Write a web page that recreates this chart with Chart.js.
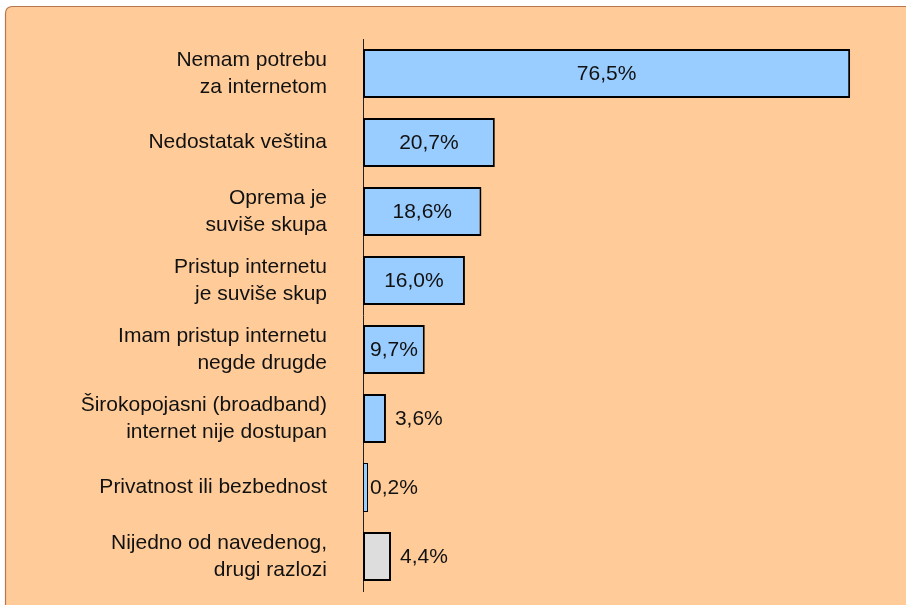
<!DOCTYPE html>
<html>
<head>
<meta charset="utf-8">
<script src="https://cdn.jsdelivr.net/npm/chart.js@4/dist/chart.umd.min.js"></script>
<style>
html,body{margin:0;padding:0;background:#fff;}
#wrap{width:906px;height:605px;position:relative;}
</style>
</head>
<body>
<div id="wrap"><canvas id="c" width="906" height="605"></canvas></div>
<script>
const categories = [
  ["Nemam potrebu", "za internetom"],
  ["Nedostatak veština"],
  ["Oprema je", "suviše skupa"],
  ["Pristup internetu", "je suviše skup"],
  ["Imam pristup internetu", "negde drugde"],
  ["Širokopojasni (broadband)", "internet nije dostupan"],
  ["Privatnost ili bezbednost"],
  ["Nijedno od navedenog,", "drugi razlozi"]
];
const values = [76.5, 20.7, 18.6, 16.0, 9.7, 3.6, 0.2, 4.4];
const valueLabels = ["76,5%", "20,7%", "18,6%", "16,0%", "9,7%", "3,6%", "0,2%", "4,4%"];
const barColors = ["#99CCFF","#99CCFF","#99CCFF","#99CCFF","#99CCFF","#99CCFF","#99CCFF","#DDDDDD"];

const FONT = "'Liberation Sans', Arial, sans-serif";

const bgPlugin = {
  id: 'bg',
  beforeDraw(chart) {
    const ctx = chart.ctx;
    ctx.save();
    ctx.fillStyle = '#ffffff';
    ctx.fillRect(0, 0, chart.width, chart.height);
    const x = 5.5, y = 6.5, r = 7, w = 1000, h = 1000;
    ctx.beginPath();
    ctx.moveTo(x + r, y);
    ctx.lineTo(x + w, y);
    ctx.lineTo(x + w, y + h);
    ctx.lineTo(x, y + h);
    ctx.lineTo(x, y + r);
    ctx.quadraticCurveTo(x, y, x + r, y);
    ctx.closePath();
    ctx.fillStyle = '#FFCC99';
    ctx.fill();
    ctx.lineWidth = 1.2;
    ctx.strokeStyle = '#B8764E';
    ctx.stroke();
    ctx.restore();
  }
};

const labelPlugin = {
  id: 'vlabels',
  afterDatasetsDraw(chart) {
    const ctx = chart.ctx;
    const meta = chart.getDatasetMeta(0);
    ctx.save();
    ctx.font = '21px ' + FONT;
    ctx.fillStyle = '#111111';
    ctx.textBaseline = 'middle';
    meta.data.forEach((bar, i) => {
      const v = values[i];
      const txt = valueLabels[i];
      if (v >= 8) {
        ctx.textAlign = 'center';
        ctx.fillText(txt, (bar.base + bar.x) / 2, bar.y + 1);
      } else {
        ctx.textAlign = 'left';
        ctx.fillText(txt, bar.x + (v < 1 ? 2 : 9), bar.y + 1);
      }
    });
    ctx.restore();
  }
};

new Chart(document.getElementById('c'), {
  type: 'bar',
  data: {
    labels: categories,
    datasets: [{
      data: values,
      backgroundColor: barColors,
      borderColor: '#000000',
      borderWidth: (ctx) => (values[ctx.dataIndex] < 1 ? 1 : 2),
      borderSkipped: false,
      minBarLength: 5,
      categoryPercentage: 1,
      barPercentage: 0.71
    }]
  },
  options: {
    indexAxis: 'y',
    responsive: false,
    animation: false,
    layout: { padding: { left: 0, right: 3, top: 39, bottom: 14 } },
    plugins: { legend: { display: false }, tooltip: { enabled: false } },
    scales: {
      x: { min: 0, max: 84.8, display: false },
      y: {
        grid: { display: false, drawTicks: false },
        border: { display: true, color: '#222222', width: 1 },
        ticks: {
          color: '#111111',
          padding: 36,
          font: { family: FONT, size: 21, lineHeight: 1.27 }
        },
        afterFit(scale) { scale.width = 363; scale.paddingTop = 0; scale.paddingBottom = 0; }
      }
    }
  },
  plugins: [bgPlugin, labelPlugin]
});
</script>
</body>
</html>
